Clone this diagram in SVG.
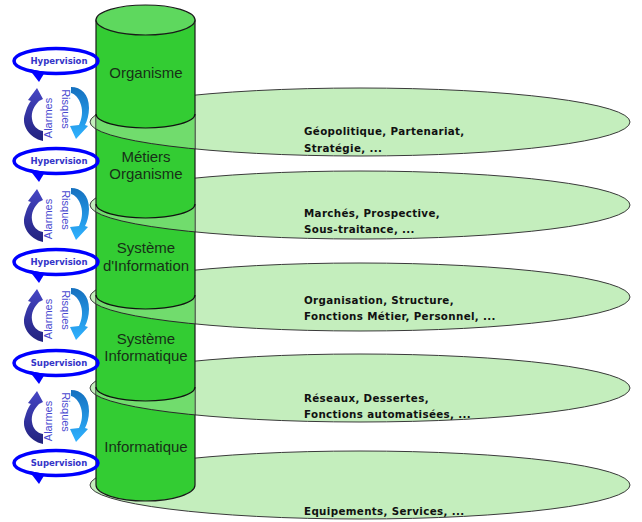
<svg xmlns="http://www.w3.org/2000/svg" width="642" height="522" viewBox="0 0 642 522">
<style>
.disc{fill:#c4eebd;stroke:#3a3a3a;stroke-width:1}
.front{fill:#b0eba8;fill-opacity:.5;stroke:#2a2a2a;stroke-width:1}
.cyl{fill:#33cc33;stroke:#1a1a1a;stroke-width:1.2}
.topf{fill:#5ed85e;stroke:#1a1a1a;stroke-width:1.2}
.sec{fill:none;stroke:#111;stroke-width:1.2}
.ct{font-family:"Liberation Sans",Arial,sans-serif;font-size:15px;fill:#173017;text-anchor:middle}
.dt{font-family:"DejaVu Sans",Verdana,sans-serif;font-weight:bold;font-size:10.3px;letter-spacing:0.35px;fill:#111}
.sup{fill:none;stroke:#0000ff;stroke-width:3.5}
.ah{fill:#0000ff}
.st{font-family:"DejaVu Sans",Verdana,sans-serif;font-weight:bold;font-size:8.5px;fill:#3434c8;text-anchor:middle}
.rt{font-family:"Liberation Sans",Arial,sans-serif;font-size:11px;fill:#4a4ad0;text-anchor:middle}
</style>
<defs>
<linearGradient id="gDark" x1="0" y1="0" x2="0" y2="1">
<stop offset="0" stop-color="#4646c4"/><stop offset="1" stop-color="#22227e"/>
</linearGradient>
<linearGradient id="gLight" x1="0" y1="0" x2="0" y2="1">
<stop offset="0" stop-color="#1470bf"/><stop offset="1" stop-color="#2fb2ff"/>
</linearGradient>
<clipPath id="c1"><path d="M96 114 A49.5 14 0 0 0 195 114 L195 184 L96 184 Z"/></clipPath>
<clipPath id="c2"><path d="M96 204 A49.5 14 0 0 0 195 204 L195 274 L96 274 Z"/></clipPath>
<clipPath id="c3"><path d="M96 295 A49.5 14 0 0 0 195 295 L195 365 L96 365 Z"/></clipPath>
<clipPath id="c4"><path d="M96 387 A49.5 14 0 0 0 195 387 L195 457 L96 457 Z"/></clipPath>
<g id="ring">
<ellipse class="sup" cx="56" cy="61" rx="42" ry="12.5"/>
<polygon class="ah" points="29,69 45,72 39,82"/>
</g>
<g id="arrows">
<path fill="url(#gDark)" d="M43 141 C29 138 21 125 25 114 C27 107 29 103 31 101 L28 100 L37 88 L43 99 L39 101 C34 106 31 112 32 119 C33 126 37 130 43 131 Z"/>
<path fill="url(#gLight)" d="M71 87 C81 87 89 94 89 108 C89 115 87 121 85 125 L88 126 L76 139 L70 126 L79 125 C82 118 83 112 81 105 C79 98 75 94 71 93 Z"/>
</g>
</defs>

<g id="discs-back">
<g id="disc1"><ellipse class="disc" cx="360" cy="122" rx="270" ry="34"/></g>
<g id="disc2"><ellipse class="disc" cx="360" cy="205" rx="270" ry="34"/></g>
<g id="disc3"><ellipse class="disc" cx="360" cy="297" rx="270" ry="34"/></g>
<g id="disc4"><ellipse class="disc" cx="360" cy="388" rx="270" ry="34"/></g>
<g id="disc5"><ellipse class="disc" cx="360" cy="485" rx="270" ry="34"/></g>
</g>

<g id="cylinder">
<path class="cyl" d="M96 20 L96 485 A49.5 16 0 0 0 195 485 L195 20 Z"/>
<ellipse class="topf" cx="145.5" cy="20" rx="49.5" ry="15"/>
</g>

<g id="discs-front">
<ellipse class="front" clip-path="url(#c1)" cx="360" cy="122" rx="270" ry="34"/>
<path class="sec" d="M96 114 A49.5 14 0 0 0 195 114"/>
<ellipse class="front" clip-path="url(#c2)" cx="360" cy="205" rx="270" ry="34"/>
<path class="sec" d="M96 204 A49.5 14 0 0 0 195 204"/>
<ellipse class="front" clip-path="url(#c3)" cx="360" cy="297" rx="270" ry="34"/>
<path class="sec" d="M96 295 A49.5 14 0 0 0 195 295"/>
<ellipse class="front" clip-path="url(#c4)" cx="360" cy="388" rx="270" ry="34"/>
<path class="sec" d="M96 387 A49.5 14 0 0 0 195 387"/>
</g>

<g id="seg-organisme"><text class="ct" x="146" y="78">Organisme</text></g>
<g id="seg-metiers"><text class="ct" x="146" y="162">Métiers</text><text class="ct" x="146" y="179">Organisme</text></g>
<g id="seg-si"><text class="ct" x="146" y="253">Système</text><text class="ct" x="146" y="271">d'Information</text></g>
<g id="seg-sinfo"><text class="ct" x="146" y="344">Système</text><text class="ct" x="146" y="361">Informatique</text></g>
<g id="seg-info"><text class="ct" x="146" y="452">Informatique</text></g>

<g id="disc-texts">
<g id="t1"><text class="dt" x="304" y="135">Géopolitique, Partenariat,</text><text class="dt" x="304" y="151.5">Stratégie, ...</text></g>
<g id="t2"><text class="dt" x="304" y="217">Marchés, Prospective,</text><text class="dt" x="304" y="233">Sous-traitance, ...</text></g>
<g id="t3"><text class="dt" x="304" y="303.5">Organisation, Structure,</text><text class="dt" x="304" y="320">Fonctions Métier, Personnel, ...</text></g>
<g id="t4"><text class="dt" x="304" y="401.5">Réseaux, Dessertes,</text><text class="dt" x="304" y="418">Fonctions automatisées, ...</text></g>
<g id="t5"><text class="dt" x="304" y="515">Equipements, Services, ...</text></g>
</g>

<g id="hyp1"><use href="#ring"/><text class="st" x="59" y="64">Hypervision</text></g>
<g id="hyp2"><use href="#ring" transform="translate(0,100)"/><text class="st" x="59" y="164">Hypervision</text></g>
<g id="hyp3"><use href="#ring" transform="translate(0,201)"/><text class="st" x="59" y="265">Hypervision</text></g>
<g id="sup1"><use href="#ring" transform="translate(0,302)"/><text class="st" x="59" y="366">Supervision</text></g>
<g id="sup2"><use href="#ring" transform="translate(0,402)"/><text class="st" x="59" y="466">Supervision</text></g>

<g id="connectors">
<g id="pair1"><use href="#arrows"/><text class="rt" transform="translate(51.5,118) rotate(-90)">Alarmes</text><text class="rt" transform="translate(61.5,109) rotate(90)">Risques</text></g>
<g id="pair2"><use href="#arrows" transform="translate(0,101)"/><text class="rt" transform="translate(51.5,219) rotate(-90)">Alarmes</text><text class="rt" transform="translate(61.5,210) rotate(90)">Risques</text></g>
<g id="pair3"><use href="#arrows" transform="translate(0,201)"/><text class="rt" transform="translate(51.5,319) rotate(-90)">Alarmes</text><text class="rt" transform="translate(61.5,310) rotate(90)">Risques</text></g>
<g id="pair4"><use href="#arrows" transform="translate(0,303)"/><text class="rt" transform="translate(51.5,421) rotate(-90)">Alarmes</text><text class="rt" transform="translate(61.5,412) rotate(90)">Risques</text></g>
</g>
</svg>
